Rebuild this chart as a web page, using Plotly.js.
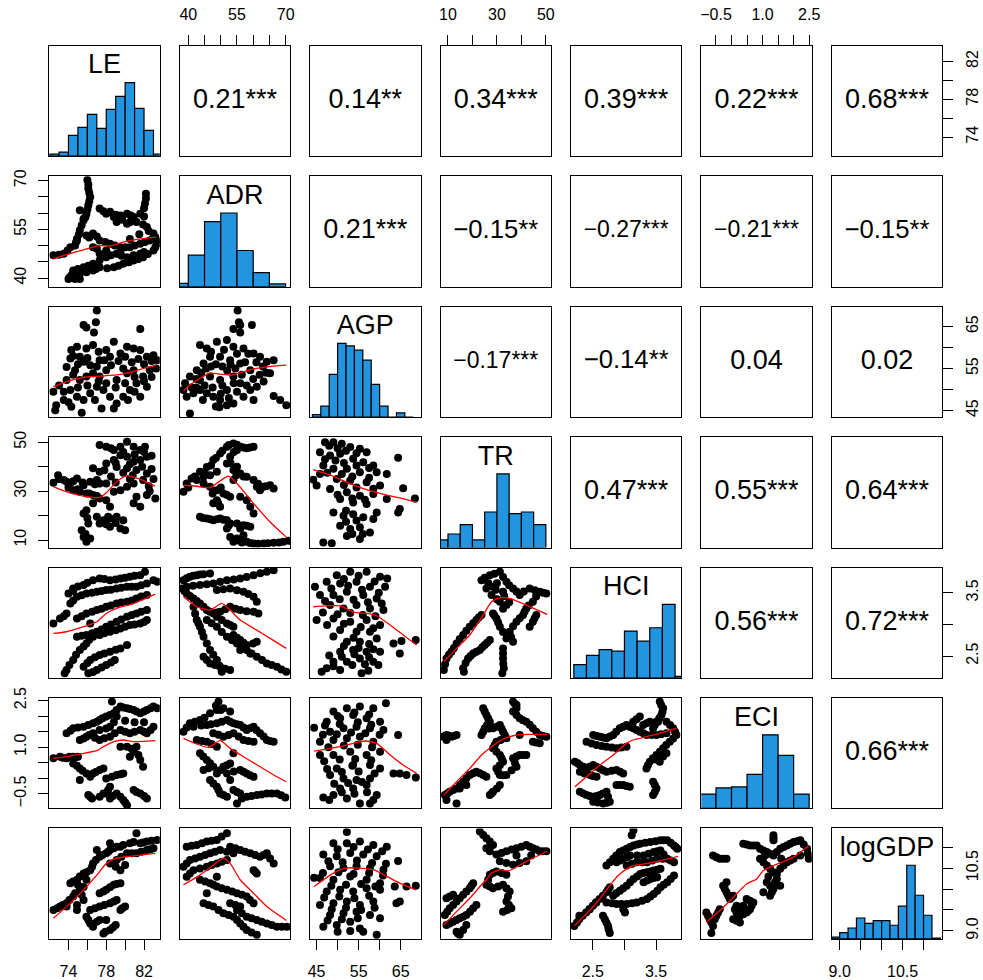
<!DOCTYPE html>
<html>
<head>
<meta charset="utf-8">
<script src="https://cdn.plot.ly/plotly-3.0.1.min.js"></script>
<style>html,body{margin:0;padding:0;background:#fff;}#chart{width:983px;height:980px;}</style>
</head>
<body>
<div id="chart"></div>
<script>
// ---------------- variables & axes ----------------
const varNames = ['LE','ADR','AGP','TR','HCI','ECI','logGDP'];
const axisMin = [71.97, 37.35, 43.45, 6.94, 2.154, -0.973, 8.81];
const axisMax = [83.67, 71.4, 69.75, 52.1, 3.90, 2.585, 11.445];
const tickVals = [[74,76,78,80,82],[40,45,50,55,60,65,70],[45,50,55,60,65],[10,20,30,40,50],[2.5,3.0,3.5],[-0.5,0,0.5,1,1.5,2,2.5],[9,9.5,10,10.5,11]];
const tickText = [['74','','78','','82'],['40','','','55','','','70'],['45','','55','','65'],['10','','30','','50'],['2.5','','3.5'],['\u22120.5','','','1.0','','','2.5'],['9.0','','','10.5','']];

// ---------------- histograms (diagonal) ----------------
const breaks_LE = [72,73,74,75,76,77,78,79,80,81,82,83,84];
const counts_LE = [2,4,21,29,42,28,47,60,74,48,26,2];
const breaks_ADR = [35,40,45,50,55,60,65,70];
const counts_ADR = [5,47,97,110,54,21,4];
const breaks_AGP = [44,46,48,50,52,54,56,58,60,62,64,66,68];
const counts_AGP = [3,13,51,88,85,80,68,39,13,0,5,0];
const breaks_TR = [5,10,15,20,25,30,35,40,45,50];
const counts_TR = [9,16,27,9,42,87,40,42,27];
const breaks_HCI = [2.2,2.4,2.6,2.8,3.0,3.2,3.4,3.6,3.8,4.0];
const counts_HCI = [16,27,34,32,56,44,60,88,2];
const breaks_ECI = [-1,-0.5,0,0.5,1,1.5,2,2.5];
const counts_ECI = [16,23,24,38,82,59,16];
const breaks_logGDP = [8.8,9.0,9.2,9.4,9.6,9.8,10.0,10.2,10.4,10.6,10.8,11.0,11.2,11.4];
const counts_logGDP = [2,7,12,23,17,20,20,15,36,81,48,26,1];

// ---------------- correlations (upper triangle, row by row) ----------------
const corrRow1 = ['0.21***','0.14**','0.34***','0.39***','0.22***','0.68***'];
const corrRow2 = ['0.21***','\u22120.15**','\u22120.27***','\u22120.21***','\u22120.15**'];
const corrRow3 = ['\u22120.17***','\u22120.14**','0.04','0.02'];
const corrRow4 = ['0.47***','0.55***','0.64***'];
const corrRow5 = ['0.56***','0.72***'];
const corrRow6 = ['0.66***'];

// ---------------- scatter points (lower triangle) [x, y] ----------------
const pts21 = [[76.0,70.2],[76.1,67.6],[76.3,65.0],[76.1,62.4],[75.9,59.8],[75.6,57.8],[75.2,54.7],[74.9,52.1],[74.7,50.0],[75.2,60.9],[75.6,58.3],[77.3,61.4],[78.0,59.8],[78.8,58.8],[78.4,60.4],[79.5,59.3],[80.2,59.8],[80.9,58.8],[81.6,59.8],[82.1,63.0],[82.2,66.0],[79.1,57.3],[80.2,56.7],[81.2,57.3],[82.3,55.7],[83.0,53.7],[72.4,47.0],[73.5,47.5],[74.2,49.5],[74.9,51.6],[75.9,53.1],[76.6,53.7],[77.3,51.6],[78.4,50.6],[79.5,49.5],[80.5,49.5],[81.6,50.6],[82.6,51.6],[83.2,52.6],[83.4,50.6],[83.0,48.5],[81.9,46.4],[80.9,45.4],[79.8,44.4],[78.8,43.3],[77.3,43.3],[76.6,42.3],[75.2,41.3],[74.3,40.8],[74.5,42.3],[75.6,43.3],[76.6,44.4],[78.0,46.4],[79.1,47.5],[80.2,46.4],[81.6,47.5],[77.3,47.5],[76.6,49.5],[74.0,39.7],[75.2,39.7],
  [76.1,68.8],[76.2,66.3],[76.2,63.7],[76.0,61.1],[75.8,58.8],[75.4,56.3],[75.1,53.4],[74.8,51.0],[73.0,47.2],[73.9,48.5],[76.2,52.5],[77.0,52.8],[77.9,51.1],[78.9,50.0],[80.0,49.5],[81.0,50.0],[82.1,51.1],[82.9,52.1],[83.3,51.6],[83.2,49.5],[82.4,47.4],[81.4,45.9],[80.4,44.9],[79.3,43.8],[78.1,43.0],[76.9,42.8],[75.9,41.8],[74.8,41.0],[74.1,40.2],[74.7,39.7],[75.0,42.8],[76.1,43.8],[77.3,45.5],[78.5,47.0],[79.6,46.9],[80.9,47.0],[82.0,48.0],[77.0,49.0],[78.0,48.5],[79.5,48.0],[80.5,52.0],[81.5,53.5],[82.5,54.5],[79.7,58.0],[80.5,57.2],[81.9,56.5],[77.7,60.6],[79.0,59.5],[80.6,59.3],[82.0,61.5],[82.2,64.5],[82.0,59.0]];
const fit21 = [[72.4,45.9],[73.8,47.2],[75.6,48.7],[77.3,50.0],[78.4,49.9],[79.8,51.1],[81.2,51.9],[83.3,52.6]];

const pts31 = [[77.0,68.8],[76.9,66.0],[76.7,63.6],[75.6,65.4],[75.9,64.8],[81.6,64.4],[74.3,59.4],[74.9,60.2],[75.9,59.8],[76.6,60.6],[75.2,57.8],[74.2,57.4],[73.8,55.4],[74.7,54.6],[75.6,56.6],[76.3,55.8],[77.2,59.0],[77.3,57.0],[78.0,59.4],[78.8,61.4],[78.4,57.8],[79.5,58.6],[80.2,60.2],[80.9,59.8],[81.6,59.4],[82.3,57.8],[83.0,58.2],[83.4,57.0],[82.6,54.6],[81.9,53.1],[81.2,51.5],[80.5,49.9],[79.8,48.3],[79.1,46.7],[78.4,48.3],[77.7,49.9],[77.0,50.7],[76.3,49.1],[75.6,47.5],[74.9,48.3],[74.2,49.9],[73.5,47.5],[72.7,46.3],[72.6,45.1],[72.4,49.5],[75.4,44.5],[74.3,45.9],[75.9,53.1],[77.3,53.1],[79.1,52.3],[80.9,54.6],[82.3,50.7],[81.6,48.3],[80.2,53.9],[78.0,54.6],[76.6,53.9],[75.2,52.3],[73.8,52.3],
  [74.5,58.0],[75.0,56.0],[76.0,57.5],[77.0,55.5],[77.8,57.0],[78.5,55.8],[79.3,56.8],[80.0,57.8],[80.7,56.5],[81.4,57.3],[82.0,56.0],[82.8,56.8],[79.8,55.0],[81.0,53.0],[82.0,52.0],[80.0,51.5],[79.0,50.5],[78.0,51.5],[77.2,52.0],[76.0,51.0],[75.0,50.5],[73.5,49.5],[73.0,51.0],[74.5,53.5],[76.8,47.5],[78.8,45.5],[80.3,47.5],[82.8,53.0],[83.3,55.0],[81.0,49.5],[77.5,45.5],[74.0,47.0]];
const fit31 = [[72.4,50.7],[73.8,51.9],[75.6,52.9],[77.3,53.2],[79.1,53.5],[80.2,53.9],[81.6,54.8],[83.3,55.8]];

const pts32 = [[55.2,68.8],[55.6,66.0],[56.0,65.4],[53.9,64.4],[59.6,65.4],[56.0,63.6],[43.6,60.6],[45.7,59.8],[48.8,61.4],[51.9,61.8],[53.9,60.2],[57.0,59.8],[60.1,58.6],[62.1,57.8],[64.2,56.6],[66.3,57.0],[65.2,53.9],[63.2,51.9],[61.1,50.7],[59.1,49.9],[57.0,48.3],[53.9,46.7],[51.9,46.3],[49.8,47.5],[47.7,48.3],[45.7,49.1],[43.6,49.9],[41.6,49.1],[39.5,48.3],[38.5,49.9],[39.0,51.5],[40.5,53.1],[42.6,54.6],[44.7,56.2],[46.7,57.8],[49.8,57.8],[52.9,57.0],[56.0,56.2],[59.1,54.6],[53.9,53.1],[49.8,52.3],[46.7,53.1],[43.6,52.3],[51.9,49.9],[56.0,51.5],[40.5,44.3],[49.6,45.8],[66.3,48.5],[68.3,47.5],[70.2,46.3],[60.1,47.5],
  [41.0,50.5],[42.5,52.5],[44.0,54.0],[45.5,55.0],[47.0,55.5],[48.5,56.0],[50.5,55.5],[52.0,54.5],[54.5,55.0],[57.5,56.5],[58.5,58.5],[61.0,56.5],[63.0,55.5],[62.0,53.5],[60.0,52.5],[58.0,51.0],[55.0,49.5],[52.5,48.0],[50.0,49.0],[47.5,50.5],[45.0,51.0],[42.5,50.5],[44.5,47.5],[48.5,46.0],[54.0,51.5],[50.5,51.0],[47.0,59.0],[51.0,59.5],[55.0,58.5],[64.0,54.0],[56.5,53.5],[53.0,56.0]];
const fit32 = [[38.5,49.7],[40.5,51.1],[43.6,52.7],[46.7,53.9],[49.8,53.7],[52.9,53.4],[56.0,54.0],[60.1,54.9],[64.2,55.4],[70.2,55.8]];

const pts41 = [[72.4,33.4],[72.9,36.5],[73.5,34.5],[74.2,33.1],[74.9,35.2],[75.6,32.4],[76.3,33.8],[77.0,34.5],[77.3,33.1],[74.5,30.4],[75.2,29.7],[75.9,29.0],[76.6,28.4],[77.3,27.0],[77.3,48.8],[78.0,48.1],[78.8,46.8],[79.5,48.1],[80.2,50.2],[80.9,48.1],[81.6,46.8],[82.1,48.1],[82.3,44.0],[81.6,42.7],[80.9,42.0],[80.2,44.0],[79.5,44.7],[78.8,42.7],[78.0,41.3],[79.1,39.9],[80.2,39.3],[81.2,38.6],[82.3,37.2],[81.9,34.5],[80.9,33.1],[80.2,31.8],[79.5,30.4],[78.8,29.7],[78.0,33.1],[77.3,37.9],[76.6,39.3],[81.2,27.7],[82.3,28.4],[83.2,27.0],[80.9,25.0],[81.6,23.6],[75.9,22.2],[75.6,20.9],[76.6,25.0],[78.0,26.3],[78.4,23.6],[77.0,19.5],[77.7,18.1],[78.4,18.8],[79.1,19.5],[79.8,18.1],[77.3,16.8],[78.4,15.4],[79.5,14.7],[80.0,14.0],[75.4,14.0],[75.6,11.3],[75.9,9.3],[76.3,10.6],[76.1,16.8],
  [78.5,47.5],[79.8,46.0],[81.0,45.0],[82.0,46.0],[82.8,44.5],[79.0,41.5],[80.5,41.0],[81.8,40.0],[82.8,39.0],[80.8,36.5],[79.8,37.5],[78.5,36.0],[79.0,33.5],[80.5,35.0],[82.5,32.0],[83.0,35.0],[82.6,30.0],[77.8,38.5],[73.0,35.0],[73.8,33.8],[74.5,34.0],[75.5,33.5],[76.8,32.8],[74.0,31.5],[75.0,30.8],[76.2,29.0],[77.0,28.0],[78.2,19.5],[79.0,17.0],[78.0,16.5],[75.8,12.5],[76.0,19.0]];
const fit41 = [[72.4,31.8],[73.8,29.7],[75.6,28.0],[77.3,27.4],[78.0,29.3],[79.1,33.8],[80.2,36.3],[81.6,34.8],[83.2,32.0]];

const pts42 = [[38.5,29.7],[39.5,33.1],[41.0,35.2],[42.6,34.5],[44.7,35.9],[46.7,36.5],[48.8,37.9],[43.6,37.9],[45.7,39.9],[47.7,42.7],[49.8,45.4],[51.9,48.1],[53.9,49.5],[56.0,48.1],[58.0,47.5],[60.1,48.1],[55.0,46.8],[52.9,44.0],[51.9,41.3],[53.9,38.6],[56.0,37.2],[58.0,35.9],[53.9,34.5],[44.7,33.1],[46.7,31.8],[48.8,30.4],[50.8,29.0],[52.9,27.7],[48.8,26.3],[49.8,23.6],[47.7,25.0],[60.1,34.5],[61.1,31.8],[63.2,31.8],[65.2,32.4],[66.3,31.1],[62.1,30.4],[56.0,27.7],[58.0,26.3],[59.1,23.6],[60.1,20.9],[43.6,19.5],[45.7,18.8],[47.7,18.1],[49.8,18.8],[51.9,18.1],[52.9,16.8],[51.9,14.7],[55.0,16.8],[57.0,16.1],[59.1,15.4],[56.0,14.7],[52.9,11.3],[55.0,10.6],[58.0,9.3],[60.1,8.6],[63.2,8.6],[66.3,8.9],[69.3,9.3],[70.9,9.7],[53.9,9.3],[57.0,12.0],
  [40.0,31.5],[42.0,36.0],[45.0,37.5],[47.0,40.5],[48.5,43.5],[50.5,46.5],[52.5,48.8],[55.0,49.0],[57.0,47.8],[59.0,47.8],[54.0,46.0],[53.0,41.5],[55.0,40.0],[54.8,36.5],[57.0,36.0],[50.0,31.5],[51.8,28.5],[47.5,29.0],[49.2,25.0],[61.5,33.0],[64.0,32.0],[44.5,19.0],[46.8,18.5],[48.8,18.5],[50.8,18.3],[52.4,15.8],[55.5,9.8],[56.5,9.0],[59.0,8.8],[61.5,8.5],[64.5,8.7],[68.0,9.0],[58.0,15.8]];
const fit42 = [[38.5,32.4],[42.6,32.0],[46.7,31.4],[49.8,34.2],[52.4,36.1],[55.0,33.1],[60.1,25.0],[65.2,17.4],[70.2,11.2]];

const pts43 = [[47.0,50.0],[49.0,50.0],[51.0,49.4],[53.0,48.0],[55.3,47.3],[56.9,45.9],[45.8,45.9],[48.2,44.6],[50.6,45.3],[53.7,43.2],[56.1,41.8],[58.5,40.5],[46.6,40.5],[49.0,39.1],[52.2,39.1],[55.3,37.7],[59.3,37.7],[45.8,37.0],[49.8,35.0],[53.0,34.3],[56.9,33.6],[60.1,32.3],[48.2,30.9],[52.2,29.5],[55.3,28.1],[58.5,28.8],[61.7,26.8],[50.6,26.8],[53.7,25.4],[56.9,24.7],[49.0,21.3],[51.4,19.9],[53.7,20.6],[56.1,19.3],[58.5,18.6],[50.6,15.8],[53.0,14.5],[55.3,15.2],[57.7,13.1],[52.2,11.7],[55.3,10.4],[46.6,9.0],[48.6,8.7],[44.2,34.7],[45.0,32.3],[64.4,43.6],[65.6,31.2],[61.7,37.0],[68.4,27.0],[64.8,22.7],[64.4,21.3],[59.3,21.3],
  [48.0,48.5],[50.0,47.5],[52.0,46.5],[54.5,45.5],[47.0,43.0],[49.5,42.5],[51.5,41.5],[54.5,40.5],[57.5,39.5],[47.5,37.5],[51.0,37.0],[53.5,36.0],[57.5,35.5],[51.5,32.5],[54.5,31.5],[58.5,31.0],[50.0,28.5],[53.5,27.0],[56.5,26.5],[52.0,22.0],[54.5,18.0],[52.0,17.5],[56.0,12.5],[53.5,12.5]];
const fit43 = [[44.2,38.8],[48.2,36.6],[52.2,33.6],[56.9,30.6],[61.7,28.4],[64.8,27.2],[68.8,25.4]];

const pts51 = [[72.4,3.017],[73.1,3.096],[73.8,3.174],[74.0,3.490],[74.5,3.569],[75.6,3.622],[76.6,3.700],[77.3,3.727],[78.4,3.700],[79.5,3.727],[80.5,3.753],[81.6,3.779],[82.1,3.832],[83.0,3.700],[83.4,3.674],[74.2,3.332],[74.9,3.437],[75.9,3.490],[77.0,3.516],[78.0,3.543],[79.1,3.569],[80.2,3.595],[81.2,3.595],[82.3,3.648],[74.9,3.096],[75.9,3.174],[77.0,3.227],[78.0,3.280],[79.1,3.332],[80.2,3.358],[81.2,3.411],[82.3,3.464],[74.9,2.806],[75.9,2.833],[77.0,2.885],[78.0,2.964],[79.1,3.043],[80.2,3.122],[81.2,3.174],[82.3,3.227],[73.8,2.280],[74.5,2.438],[75.2,2.596],[75.9,2.701],[76.6,2.806],[77.3,2.833],[78.4,2.885],[79.5,2.938],[80.5,2.990],[81.6,3.017],[82.3,3.069],[75.6,2.333],[76.3,2.438],[77.3,2.517],[78.4,2.570],[79.5,2.622],[80.2,2.675],[76.1,2.228],[77.0,2.280],[78.0,2.359],[78.9,2.438],[73.6,2.228],[76.3,3.017],
  [73.5,3.13],[74.5,3.53],[75.0,3.60],[76.0,3.66],[77.8,3.72],[79.0,3.71],[80.0,3.74],[81.0,3.77],[74.5,3.38],[75.4,3.46],[76.5,3.50],[77.5,3.53],[78.5,3.55],[79.6,3.58],[80.7,3.595],[81.7,3.62],[75.4,3.13],[76.5,3.20],[77.5,3.25],[78.5,3.30],[79.6,3.345],[80.7,3.38],[81.7,3.44],[75.4,2.82],[76.5,2.86],[77.5,2.92],[78.5,3.00],[79.6,3.08],[80.7,3.15],[81.7,3.20],[74.1,2.36],[74.8,2.52],[75.6,2.65],[76.2,2.76],[77.8,2.86],[79.0,2.91],[80.0,2.965],[81.0,3.00],[82.0,3.04],[76.0,2.39],[76.8,2.48],[77.8,2.54],[79.0,2.60],[76.6,2.25],[77.5,2.32],[78.5,2.40]];
const fit51 = [[72.4,2.859],[73.8,2.885],[75.6,2.964],[77.0,3.043],[78.0,3.174],[79.1,3.253],[80.9,3.332],[83.2,3.480]];

const pts52 = [[38.5,3.700],[40.5,3.753],[42.6,3.779],[44.7,3.795],[46.7,3.806],[39.5,3.595],[43.6,3.622],[47.7,3.648],[51.9,3.700],[56.0,3.727],[60.1,3.779],[64.2,3.832],[66.3,3.858],[48.8,3.543],[52.9,3.569],[57.0,3.516],[60.1,3.437],[61.1,3.358],[38.0,3.569],[39.5,3.490],[41.6,3.411],[43.6,3.332],[45.7,3.227],[47.7,3.174],[49.8,3.201],[52.9,3.280],[56.0,3.227],[60.1,3.201],[61.6,3.174],[41.6,3.280],[42.6,3.069],[43.6,2.964],[44.7,2.806],[46.7,2.596],[48.8,2.438],[50.3,2.254],[45.7,3.069],[48.8,2.964],[51.9,2.806],[55.0,2.701],[58.0,2.596],[61.1,2.491],[64.2,2.385],[67.3,2.333],[70.2,2.254],[48.8,3.122],[51.9,3.017],[53.9,2.964],[53.9,2.833],[56.0,2.754],[58.0,2.675],[61.1,2.728],[56.0,2.596],[59.1,2.543],[44.7,2.491],[46.7,2.385],[49.8,2.333],[52.9,2.280],
  [39.5,3.73],[41.5,3.77],[43.6,3.79],[41.5,3.61],[45.7,3.635],[49.8,3.675],[54.0,3.71],[58.0,3.75],[62.2,3.81],[50.8,3.556],[55.0,3.54],[58.5,3.48],[38.8,3.53],[40.5,3.45],[42.6,3.37],[44.7,3.28],[46.7,3.20],[48.8,3.19],[51.4,3.24],[54.5,3.25],[58.0,3.21],[42.1,3.17],[43.1,3.02],[44.2,2.88],[45.7,2.70],[47.7,2.52],[49.5,2.35],[47.2,3.02],[50.3,2.88],[53.5,2.75],[56.5,2.65],[59.5,2.54],[62.7,2.44],[65.7,2.36],[68.7,2.29],[50.3,3.07],[52.9,2.99],[55.0,2.79],[57.0,2.71],[60.0,2.70],[45.7,2.44],[48.2,2.36],[51.3,2.30]];
const fit52 = [[38.5,3.437],[42.6,3.280],[46.7,3.227],[50.3,3.332],[52.9,3.227],[56.0,3.069],[61.1,2.911],[65.2,2.780],[70.2,2.622]];

const pts53 = [[49.8,3.779],[53.0,3.832],[56.9,3.832],[60.1,3.753],[47.4,3.674],[50.6,3.648],[54.5,3.674],[57.7,3.595],[61.3,3.595],[61.8,3.727],[45.8,3.464],[49.0,3.464],[52.2,3.516],[56.1,3.464],[59.3,3.411],[48.2,3.306],[51.4,3.253],[54.5,3.306],[57.7,3.253],[60.9,3.227],[45.0,3.069],[49.0,3.096],[53.0,3.043],[56.9,3.069],[60.1,2.990],[50.6,2.911],[54.5,2.885],[57.7,2.885],[52.2,2.727],[55.3,2.727],[59.3,2.780],[50.6,2.570],[53.7,2.596],[56.9,2.570],[60.1,2.570],[49.0,2.412],[52.2,2.412],[55.3,2.464],[58.5,2.412],[47.4,2.307],[50.6,2.280],[59.7,2.359],[63.3,2.701],[65.2,2.738],[68.6,2.754],[64.8,2.543],[55.7,2.228],[57.3,2.270],[46.2,2.254],[44.6,3.595],
  [51.5,3.72],[55.0,3.77],[58.8,3.68],[48.5,3.57],[52.5,3.61],[55.8,3.55],[59.8,3.50],[47.0,3.37],[50.5,3.40],[53.8,3.39],[57.2,3.35],[60.5,3.33],[46.5,3.19],[50.0,3.16],[53.0,3.18],[56.0,3.15],[59.0,3.13],[47.5,2.99],[51.5,3.01],[55.5,2.96],[58.5,2.94],[49.0,2.81],[53.8,2.79],[57.5,2.69],[51.5,2.66],[55.0,2.63],[58.5,2.61],[48.0,2.51],[51.0,2.49],[54.0,2.53],[57.5,2.48],[49.0,2.34],[53.5,2.36],[56.5,2.37]];
const fit53 = [[44.2,3.280],[47.4,3.295],[50.6,3.295],[54.1,3.190],[56.9,3.174],[59.3,3.138],[62.5,2.990],[65.6,2.833],[68.8,2.675]];

const pts54 = [[8.3,2.280],[9.4,2.464],[11.4,2.570],[13.5,2.701],[16.2,2.833],[18.9,2.964],[21.6,3.069],[23.7,3.148],[16.2,2.307],[18.2,2.464],[20.3,2.543],[23.0,2.596],[25.0,2.675],[27.1,2.754],[23.7,3.700],[27.1,3.779],[31.2,3.832],[33.9,3.674],[32.5,3.516],[36.6,3.569],[39.3,3.464],[43.4,3.569],[47.5,3.516],[50.2,3.490],[44.7,3.358],[42.0,3.253],[40.7,3.148],[38.0,3.043],[35.2,2.885],[36.6,2.727],[33.9,2.780],[31.2,2.964],[29.8,3.096],[28.4,3.174],[33.9,3.306],[31.2,3.358],[32.5,2.622],[32.5,2.464],[32.8,2.307],[32.2,2.228],[44.7,3.043],[46.1,3.148],[43.4,2.964],[28.4,3.595],[25.7,3.569],[27.8,3.464],[16.5,2.254],
  [8.8,2.37],[10.4,2.52],[12.4,2.63],[14.8,2.77],[17.5,2.90],[20.3,3.02],[22.6,3.11],[17.2,2.39],[19.2,2.50],[21.6,2.57],[24.0,2.64],[26.0,2.71],[25.0,3.74],[29.0,3.80],[32.5,3.75],[30.0,3.65],[35.0,3.62],[38.0,3.52],[41.0,3.52],[45.5,3.54],[48.8,3.50],[46.0,3.44],[43.0,3.30],[41.3,3.20],[39.3,3.10],[36.6,2.97],[35.8,2.80],[32.5,2.88],[30.5,3.03],[29.0,3.14],[32.5,3.25],[35.0,3.35],[33.0,3.45],[30.0,3.40],[32.5,2.54],[32.6,2.38],[45.4,3.10],[26.5,3.65],[29.5,3.55]];
const fit54 = [[8.3,2.412],[13.5,2.622],[18.9,2.833],[24.4,3.148],[27.8,3.358],[31.2,3.421],[35.2,3.411],[42.0,3.306],[50.5,3.159]];

const pts61 = [[72.4,0.640],[73.1,0.693],[73.8,0.640],[74.5,0.693],[75.0,0.693],[73.8,1.446],[74.5,1.607],[75.6,1.661],[76.6,1.768],[77.3,1.876],[78.0,1.984],[78.8,2.091],[79.5,2.306],[80.2,2.252],[80.9,2.198],[81.6,2.091],[82.3,2.198],[83.0,2.306],[83.4,2.252],[78.6,2.467],[79.1,1.984],[78.4,1.661],[77.3,1.553],[76.6,1.446],[75.9,1.338],[75.2,1.231],[77.3,1.231],[78.4,1.338],[79.5,1.553],[80.5,1.446],[81.6,1.553],[82.3,1.446],[83.0,1.661],[81.2,1.016],[80.9,0.854],[81.6,0.586],[81.9,0.371],[80.2,1.016],[79.5,1.016],[80.5,0.693],[74.5,0.478],[75.2,0.317],[75.9,0.156],[76.6,0.156],[77.3,0.263],[77.7,0.317],[75.2,-0.059],[76.3,0.048],[78.0,-0.006],[79.1,0.102],[79.8,0.156],[78.4,-0.274],[77.7,-0.489],[77.3,-0.597],[78.4,-0.651],[79.1,-0.489],[79.8,-0.704],[80.2,-0.866],[80.9,-0.382],[81.6,-0.489],[82.3,-0.651],[76.1,-0.543],[76.5,-0.651],[78.0,-0.489],
  [73.4,0.66],[74.1,0.69],[74.8,0.68],[74.2,1.53],[75.0,1.63],[76.1,1.71],[77.0,1.82],[77.6,1.93],[78.4,2.04],[79.1,2.20],[79.8,2.28],[80.5,2.23],[81.2,2.15],[82.0,2.15],[82.7,2.25],[76.2,1.39],[75.6,1.28],[76.8,1.30],[77.8,1.29],[78.9,1.45],[80.0,1.50],[81.0,1.50],[82.0,1.50],[82.7,1.55],[78.0,1.60],[78.8,1.80],[80.0,1.85],[81.0,1.80],[82.0,1.80],[80.7,0.95],[81.4,0.75],[74.9,0.40],[75.5,0.24],[76.9,0.20],[78.6,0.05],[79.5,0.13],[78.2,-0.38],[78.7,-0.57],[79.5,-0.60],[80.0,-0.78],[81.2,-0.44],[82.0,-0.57],[76.3,-0.60]];
const fit61 = [[72.4,0.640],[73.8,0.693],[75.6,0.801],[77.0,0.887],[77.7,1.016],[78.8,1.177],[79.8,1.231],[80.9,1.177],[83.2,1.209]];

const pts62 = [[49.3,2.467],[48.8,2.198],[46.7,2.091],[50.8,2.252],[52.9,2.145],[43.6,1.876],[40.5,1.768],[38.5,1.499],[41.6,1.661],[45.7,1.714],[48.8,1.768],[51.9,1.876],[53.9,1.768],[56.0,1.714],[58.0,1.553],[60.1,1.661],[62.1,1.446],[64.2,1.231],[66.3,1.177],[47.7,1.446],[50.8,1.338],[53.9,1.446],[57.0,1.231],[60.1,1.177],[42.6,1.231],[45.7,1.177],[48.8,1.016],[43.6,0.801],[45.7,0.586],[47.7,0.371],[44.7,0.263],[48.8,0.156],[50.8,0.371],[52.9,0.478],[53.9,0.801],[51.9,0.156],[56.0,0.263],[58.0,0.156],[60.1,0.048],[46.7,-0.059],[48.8,-0.274],[49.8,-0.489],[51.9,-0.597],[53.9,-0.382],[56.0,-0.489],[55.0,-0.812],[58.0,-0.597],[61.1,-0.543],[64.2,-0.489],[67.3,-0.489],[69.9,-0.618],[52.9,-0.059],
  [48.5,2.33],[50.0,2.20],[45.0,1.95],[42.0,1.82],[39.5,1.63],[44.0,1.70],[47.0,1.74],[50.3,1.82],[52.9,1.82],[55.0,1.74],[57.0,1.63],[59.0,1.61],[61.0,1.55],[63.2,1.34],[65.2,1.20],[49.3,1.40],[52.4,1.39],[55.5,1.34],[58.5,1.20],[44.2,1.20],[47.2,1.10],[44.6,0.70],[46.7,0.48],[46.2,0.32],[49.8,0.26],[51.9,0.42],[54.0,0.22],[57.0,0.21],[59.0,0.10],[47.7,-0.17],[49.3,-0.38],[50.8,-0.54],[55.0,-0.44],[56.5,-0.65],[59.5,-0.57],[62.6,-0.52],[65.7,-0.49],[68.6,-0.55]];
const fit62 = [[38.5,1.285],[42.6,1.102],[46.2,0.994],[49.8,1.209],[52.9,0.962],[57.0,0.693],[62.1,0.371],[67.3,0.048],[70.2,-0.113]];

const pts63 = [[49.0,2.145],[52.2,2.252],[55.3,2.306],[58.5,2.252],[61.5,2.413],[47.4,1.822],[50.6,1.930],[53.7,2.037],[56.9,1.930],[60.1,1.822],[48.2,1.499],[51.4,1.607],[54.5,1.661],[57.7,1.607],[60.9,1.553],[45.8,1.177],[49.0,1.231],[52.2,1.285],[55.3,1.338],[58.5,1.177],[45.8,0.747],[49.0,0.747],[53.0,0.854],[56.9,0.747],[60.1,0.854],[49.8,0.317],[53.7,0.425],[57.7,0.425],[60.1,0.317],[48.2,0.102],[51.4,-0.006],[54.5,-0.059],[57.7,-0.006],[50.6,-0.328],[53.7,-0.328],[56.9,-0.221],[49.0,-0.543],[52.2,-0.651],[55.3,-0.812],[57.7,-0.812],[46.6,-0.618],[59.3,-0.543],[44.4,1.629],[64.4,1.392],[63.3,0.156],[64.8,0.156],[66.4,0.102],[68.6,0.027],
  [50.0,2.00],[54.0,2.12],[57.5,2.05],[47.0,1.70],[50.5,1.75],[54.8,1.80],[58.0,1.72],[46.5,1.40],[49.8,1.42],[53.2,1.47],[56.6,1.45],[60.0,1.40],[47.8,1.00],[51.5,1.05],[54.8,1.08],[58.2,1.00],[46.8,0.55],[50.5,0.60],[54.2,0.62],[58.0,0.58],[51.0,0.20],[55.0,0.22],[58.8,0.15],[49.2,-0.18],[52.5,-0.15],[55.8,-0.12],[51.0,-0.45],[54.0,-0.50],[57.0,-0.45],[48.0,-0.70],[58.5,-0.70],[53.5,0.40],[47.5,0.30]];
const fit63 = [[44.4,0.876],[47.4,0.940],[50.6,1.016],[53.7,1.123],[56.5,1.199],[59.3,1.123],[62.5,0.747],[65.6,0.425],[68.8,0.156]];

const pts64 = [[8.0,1.338],[9.4,1.392],[11.4,1.338],[13.5,1.392],[9.4,1.231],[8.7,-0.543],[10.7,-0.436],[13.5,-0.328],[16.2,-0.113],[18.9,0.102],[21.6,0.210],[24.4,0.102],[25.7,0.048],[9.4,-0.704],[13.5,-0.812],[14.8,-0.328],[17.5,-0.221],[24.4,2.252],[25.7,2.037],[27.1,1.822],[25.0,1.607],[23.7,1.392],[28.4,1.607],[31.2,1.714],[32.5,1.499],[33.9,1.285],[29.8,1.177],[28.4,0.962],[31.2,0.747],[32.5,0.532],[29.8,0.317],[31.2,0.102],[33.9,0.102],[38.0,0.371],[36.6,0.640],[39.3,0.747],[42.0,0.747],[39.3,1.392],[36.6,2.145],[38.0,2.360],[36.6,2.467],[39.3,1.930],[42.0,1.822],[44.7,1.607],[47.5,1.392],[50.2,1.338],[44.7,1.177],[47.5,1.123],[31.2,-0.221],[28.4,-0.436],[27.1,-0.543],
  [8.7,1.36],[10.4,1.37],[12.4,1.36],[9.7,-0.49],[12.1,-0.38],[14.9,-0.22],[17.5,0.00],[20.3,0.16],[23.0,0.16],[25.0,2.15],[26.4,1.93],[26.0,1.71],[24.4,1.50],[26.8,1.60],[29.8,1.66],[31.9,1.60],[33.2,1.39],[31.5,1.23],[29.1,1.07],[29.8,0.85],[31.9,0.64],[31.2,0.42],[30.5,0.21],[32.5,0.10],[36.0,0.26],[37.3,0.50],[38.0,0.70],[40.6,0.75],[38.0,2.25],[37.3,2.40],[38.0,2.04],[40.6,1.87],[43.4,1.72],[46.1,1.50],[48.8,1.36],[46.1,1.15],[30.0,-0.33],[27.8,-0.49]];
const fit64 = [[8.3,-0.543],[13.5,-0.113],[18.9,0.317],[23.7,0.747],[27.8,1.016],[31.8,1.231],[38.0,1.392],[44.7,1.414],[50.5,1.414]];

const pts65 = [[3.558,2.467],[3.611,2.252],[3.585,2.037],[3.506,1.822],[3.453,1.607],[3.243,1.984],[3.138,1.822],[3.295,1.714],[3.401,1.822],[3.664,1.822],[3.769,1.607],[3.821,1.392],[3.716,1.177],[3.611,0.962],[3.506,0.747],[3.401,0.532],[3.348,0.317],[3.558,0.532],[3.664,0.801],[2.506,1.392],[2.612,1.338],[2.717,1.285],[2.822,1.392],[2.927,1.607],[3.032,1.714],[3.138,1.607],[3.243,1.499],[3.348,1.392],[3.506,1.392],[3.664,1.446],[2.401,1.177],[2.559,1.069],[2.717,1.016],[2.875,0.962],[3.032,1.016],[2.217,0.532],[2.296,0.425],[2.401,0.317],[2.506,0.425],[2.612,0.317],[2.717,0.210],[2.875,0.263],[2.980,0.156],[2.296,0.210],[2.454,0.102],[2.559,0.048],[2.875,-0.221],[2.980,-0.221],[3.085,-0.274],[2.296,-0.436],[2.401,-0.543],[2.506,-0.597],[2.612,-0.543],[2.717,-0.436],[2.769,-0.758],[2.664,-0.812],[2.506,-0.758],[3.453,-0.113],[3.506,-0.328],[3.453,-0.543],
  [3.58,2.36],[3.60,2.14],[3.55,1.93],[3.48,1.71],[3.19,1.90],[3.35,1.77],[3.53,1.82],[3.72,1.71],[3.80,1.50],[3.77,1.28],[3.66,1.07],[3.56,0.85],[3.45,0.64],[3.37,0.42],[3.50,0.60],[3.61,0.70],[2.56,1.36],[2.66,1.31],[2.77,1.34],[2.87,1.50],[2.98,1.66],[3.08,1.66],[3.19,1.55],[3.30,1.45],[3.43,1.39],[3.58,1.42],[2.48,1.12],[2.64,1.04],[2.80,0.99],[2.95,0.99],[2.26,0.48],[2.35,0.37],[2.45,0.37],[2.56,0.37],[2.66,0.26],[2.80,0.24],[2.93,0.21],[2.37,0.15],[2.50,0.07],[2.93,-0.22],[3.03,-0.25],[2.35,-0.49],[2.45,-0.57],[2.56,-0.57],[2.66,-0.49],[2.74,-0.60],[2.72,-0.79],[2.58,-0.78],[3.48,-0.22],[3.48,-0.44]];
const fit65 = [[2.217,-0.274],[2.401,0.048],[2.612,0.425],[2.822,0.747],[3.032,1.123],[3.138,1.231],[3.348,1.338],[3.558,1.446],[3.821,1.607]];

const pts71 = [[72.4,9.50],[73.1,9.58],[73.8,9.66],[74.5,9.82],[74.2,10.14],[74.9,10.22],[75.6,10.37],[75.9,10.22],[75.2,9.98],[76.3,10.45],[76.6,10.61],[77.3,10.77],[78.0,10.85],[77.0,10.93],[78.4,10.93],[79.1,11.01],[78.4,11.09],[79.5,11.01],[80.5,11.09],[81.2,11.33],[81.6,11.09],[82.3,11.13],[83.4,11.17],[79.1,10.69],[80.2,10.85],[81.2,10.85],[82.3,10.93],[83.0,10.97],[78.4,10.61],[79.5,10.45],[77.3,9.90],[78.0,9.98],[78.8,10.10],[79.5,10.14],[76.3,9.50],[77.3,9.58],[78.4,9.66],[79.1,9.74],[80.0,9.58],[79.5,9.50],[75.9,9.34],[76.3,9.18],[76.6,9.10],[77.3,9.26],[77.7,8.94],[78.4,9.02],[79.0,9.14],[78.0,9.26],[73.8,9.58],[74.9,9.50],[75.6,9.74],
  [72.8,9.54],[73.4,9.62],[74.1,9.74],[74.7,9.90],[74.5,10.18],[75.2,10.30],[75.9,10.40],[76.5,10.53],[76.9,10.69],[77.6,10.81],[78.2,10.89],[78.8,10.97],[79.8,11.05],[80.9,11.12],[81.9,11.11],[82.8,11.15],[79.6,10.77],[80.7,10.85],[81.7,10.89],[82.7,10.95],[79.0,10.53],[80.0,10.57],[77.7,9.94],[78.4,10.04],[79.1,10.12],[76.8,9.54],[77.8,9.62],[78.8,9.70],[79.7,9.54],[76.1,9.26],[76.5,9.14],[77.0,9.22],[77.9,8.98],[78.7,9.08],[75.0,10.10],[74.9,9.62],[75.4,9.86],[75.6,10.05]];
const fit71 = [[72.4,9.30],[73.8,9.58],[75.6,9.98],[77.0,10.33],[78.0,10.61],[79.0,10.73],[80.2,10.77],[81.6,10.81],[83.2,10.85]];

const pts72 = [[39.5,11.01],[42.6,11.05],[45.7,11.13],[48.8,11.17],[51.9,11.33],[52.9,11.01],[56.0,10.93],[59.1,10.85],[62.1,10.77],[64.2,10.85],[66.3,10.61],[61.1,10.37],[60.1,10.45],[53.9,10.85],[49.8,10.93],[46.7,10.85],[43.6,10.77],[40.5,10.69],[38.5,10.53],[39.5,10.29],[41.6,10.45],[45.7,10.53],[48.8,10.61],[51.9,10.69],[43.6,10.22],[46.7,10.14],[48.8,10.06],[51.9,9.98],[55.0,9.90],[58.0,9.82],[60.1,9.66],[56.0,9.58],[52.9,9.66],[44.7,9.66],[47.7,9.58],[50.8,9.42],[53.9,9.34],[56.0,9.18],[58.0,9.02],[61.1,8.91],[55.0,9.50],[58.0,9.34],[61.1,9.26],[64.2,9.18],[67.3,9.10],[70.4,9.10],[48.8,10.29],[45.7,9.90],
  [41.0,11.03],[44.2,11.09],[47.2,11.15],[50.3,11.25],[54.5,10.97],[57.5,10.89],[60.6,10.81],[63.2,10.81],[65.2,10.73],[60.6,10.41],[51.9,10.89],[48.2,10.89],[45.2,10.81],[42.1,10.73],[39.5,10.61],[40.5,10.37],[43.6,10.49],[47.2,10.57],[50.3,10.65],[45.2,10.18],[47.7,10.10],[50.3,10.02],[53.5,9.94],[56.5,9.86],[59.0,9.74],[54.5,9.62],[46.2,9.62],[49.3,9.50],[52.4,9.38],[55.0,9.26],[57.0,9.10],[59.5,8.96],[56.5,9.42],[59.5,9.30],[62.6,9.22],[65.7,9.14],[68.8,9.10]];
const fit72 = [[38.5,10.10],[43.6,10.33],[47.7,10.57],[50.8,10.73],[52.9,10.61],[56.0,10.22],[60.1,9.90],[64.2,9.58],[70.2,9.25]];

const pts73 = [[52.2,11.36],[49.0,11.09],[52.2,11.09],[55.3,11.13],[58.5,11.05],[61.7,11.01],[46.6,10.82],[49.8,10.78],[53.0,10.86],[56.1,10.82],[59.3,10.78],[48.2,10.54],[51.4,10.50],[54.5,10.54],[57.7,10.50],[60.9,10.46],[45.8,10.26],[49.0,10.22],[53.0,10.30],[56.9,10.22],[60.1,10.14],[47.4,9.94],[50.6,9.98],[53.7,9.94],[56.9,10.02],[60.1,9.98],[45.8,9.62],[49.0,9.66],[52.2,9.70],[55.3,9.62],[58.5,9.70],[48.2,9.38],[51.4,9.42],[54.5,9.46],[57.7,9.38],[60.1,9.30],[46.6,9.10],[49.8,9.14],[53.0,9.22],[55.3,9.06],[44.4,10.27],[64.4,10.67],[64.0,9.66],[64.8,9.70],[63.6,10.06],[66.4,10.06],[68.6,10.08],[59.3,8.91],[56.1,8.98],
  [50.0,10.95],[53.8,11.00],[57.2,10.94],[60.6,10.90],[47.8,10.66],[51.2,10.64],[54.6,10.68],[58.2,10.62],[61.5,10.60],[46.5,10.38],[50.2,10.40],[53.8,10.36],[57.5,10.38],[60.8,10.32],[48.5,10.08],[52.0,10.10],[55.6,10.12],[59.0,10.06],[46.8,9.80],[50.4,9.82],[54.0,9.78],[57.5,9.84],[48.6,9.52],[52.0,9.55],[55.6,9.50],[58.8,9.55],[47.6,9.25],[51.0,9.28],[54.8,9.30],[50.0,8.98],[53.0,9.00]];
const fit73 = [[44.4,10.06],[49.0,10.38],[51.8,10.50],[54.9,10.50],[58.5,10.46],[61.7,10.30],[64.8,10.14],[68.6,9.98]];

const pts74 = [[8.7,9.38],[10.7,9.54],[13.5,9.70],[16.2,9.86],[18.9,10.02],[20.3,10.14],[9.4,9.14],[12.1,9.22],[14.8,9.30],[17.5,9.38],[13.5,8.98],[14.8,8.91],[17.5,9.14],[20.3,9.54],[21.6,9.62],[9.4,9.78],[12.1,9.86],[23.0,11.37],[25.7,11.21],[28.4,11.05],[25.7,10.97],[29.8,10.82],[33.9,10.90],[38.0,10.97],[42.0,11.05],[44.7,10.97],[47.5,10.90],[50.2,10.90],[31.2,10.66],[36.6,10.58],[42.0,10.66],[33.9,10.34],[29.8,10.42],[27.1,10.34],[25.7,10.10],[28.4,10.02],[32.5,10.10],[35.2,9.94],[33.9,9.70],[35.9,9.54],[32.5,9.46],
  [9.7,9.46],[12.1,9.62],[14.8,9.78],[17.5,9.94],[19.6,10.08],[10.7,9.18],[13.5,9.26],[16.2,9.34],[14.1,8.94],[16.2,9.02],[19.0,9.46],[10.7,9.82],[24.4,11.29],[27.1,11.13],[27.1,10.90],[31.9,10.86],[36.0,10.94],[40.0,11.01],[43.4,11.01],[46.1,10.94],[48.8,10.90],[33.9,10.62],[39.3,10.62],[31.9,10.38],[28.4,10.38],[26.4,10.22],[27.1,10.06],[30.5,10.06],[33.9,10.02],[34.5,9.82],[34.9,9.62],[34.2,9.50],[38.0,10.80],[44.0,10.80]];
const fit74 = [[8.3,9.14],[13.5,9.46],[18.9,9.78],[23.7,10.10],[25.7,10.22],[27.8,10.38],[31.2,10.46],[34.6,10.43],[42.0,10.66],[50.5,10.90]];

const pts75 = [[2.207,9.12],[2.288,9.28],[2.394,9.44],[2.501,9.60],[2.608,9.76],[2.715,9.92],[2.768,10.04],[2.288,9.36],[2.448,9.52],[2.555,9.68],[2.715,9.68],[2.875,9.64],[3.035,9.64],[3.195,9.68],[3.356,9.76],[3.462,9.88],[3.569,10.04],[3.676,10.16],[3.783,10.32],[2.822,9.84],[2.928,9.96],[3.035,10.08],[3.142,10.24],[3.249,10.36],[3.356,10.40],[3.462,10.44],[3.569,10.48],[2.982,9.52],[3.008,9.44],[2.661,9.36],[2.715,9.20],[2.768,8.95],[2.741,9.12],[2.715,10.56],[2.822,10.72],[2.928,10.88],[3.035,10.96],[3.142,11.04],[3.249,11.08],[3.409,11.12],[3.569,11.16],[3.676,11.16],[3.783,11.04],[3.836,10.96],[3.115,11.28],[3.142,11.40],[2.875,10.64],[2.982,10.72],[3.089,10.80],[3.302,10.80],[3.462,10.88],[3.569,10.92],[3.035,10.56],[3.195,10.64],[3.356,10.64],[3.516,10.72],[3.676,10.72],[3.783,10.64],[3.302,10.16],[3.409,10.24],[3.516,10.28],
  [2.25,9.20],[2.34,9.36],[2.45,9.52],[2.55,9.68],[2.66,9.84],[2.74,9.98],[2.80,9.66],[2.95,9.64],[3.12,9.66],[3.28,9.72],[3.41,9.82],[3.52,9.96],[3.62,10.10],[3.73,10.24],[2.87,9.90],[2.98,10.02],[3.09,10.16],[3.20,10.30],[3.30,10.38],[3.41,10.42],[3.52,10.46],[2.69,9.28],[2.75,9.04],[2.77,10.64],[2.87,10.80],[2.98,10.92],[3.09,11.00],[3.20,11.06],[3.33,11.10],[3.49,11.14],[3.62,11.16],[3.73,11.10],[3.81,11.00],[2.93,10.68],[3.04,10.76],[3.20,10.80],[3.38,10.84],[3.52,10.90],[3.62,10.82],[3.73,10.68],[3.12,10.60],[3.28,10.64],[3.44,10.68],[3.60,10.72],[3.36,10.20],[3.46,10.26]];
const fit75 = [[2.207,9.12],[2.394,9.40],[2.608,9.76],[2.768,10.08],[2.901,10.32],[3.035,10.48],[3.142,10.56],[3.249,10.58],[3.462,10.64],[3.847,10.78]];

const pts76 = [[-0.811,9.44],[-0.703,9.28],[-0.595,9.12],[-0.649,8.95],[-0.487,9.36],[-0.378,9.52],[-0.595,10.80],[-0.378,10.72],[-0.162,10.72],[-0.270,10.08],[-0.162,9.92],[-0.054,9.76],[0.054,9.84],[-0.162,10.16],[0.162,9.60],[0.270,9.36],[0.054,9.28],[0.270,9.20],[0.486,9.44],[0.594,9.52],[0.703,9.68],[0.486,9.76],[0.378,9.60],[0.162,9.44],[0.378,11.08],[0.594,11.04],[0.811,11.04],[1.351,11.28],[1.351,11.16],[0.919,10.96],[1.135,10.88],[1.351,10.80],[1.567,10.96],[1.784,11.04],[2.000,11.12],[2.216,11.16],[2.432,10.96],[2.486,10.72],[0.919,10.72],[1.135,10.56],[1.351,10.40],[1.567,10.48],[1.784,10.64],[2.000,10.72],[1.135,10.16],[1.351,10.00],[1.243,9.84],[1.027,9.92],[1.459,10.24],[1.567,10.08],
  [-0.757,9.36],[-0.649,9.20],[-0.541,9.28],[-0.432,9.44],[-0.486,10.76],[-0.270,10.72],[-0.216,10.00],[-0.108,9.84],[0.000,9.80],[0.108,9.52],[0.216,9.28],[0.162,9.24],[0.378,9.40],[0.540,9.48],[0.648,9.60],[0.594,9.72],[0.270,9.52],[0.486,11.06],[0.703,11.04],[1.351,11.22],[1.027,10.92],[1.243,10.84],[1.459,10.88],[1.675,11.00],[1.892,11.08],[2.108,11.14],[2.324,11.06],[2.459,10.84],[1.027,10.64],[1.243,10.48],[1.459,10.36],[1.675,10.56],[1.892,10.68],[2.216,10.80],[1.243,10.08],[1.297,9.92],[1.189,10.30],[1.400,10.16],[1.080,10.80],[1.600,10.72]];
const fit76 = [[-0.811,9.21],[-0.378,9.48],[0.054,9.80],[0.486,10.12],[0.811,10.24],[1.027,10.44],[1.351,10.56],[2.000,10.76],[2.486,11.03]];

// ---------------- assembly ----------------
const histBreaks = [breaks_LE, breaks_ADR, breaks_AGP, breaks_TR, breaks_HCI, breaks_ECI, breaks_logGDP];
const histCounts = [counts_LE, counts_ADR, counts_AGP, counts_TR, counts_HCI, counts_ECI, counts_logGDP];
const corrRows = [corrRow1, corrRow2, corrRow3, corrRow4, corrRow5, corrRow6];
const lowerPanels = [
  [2,1,pts21,fit21],[3,1,pts31,fit31],[3,2,pts32,fit32],
  [4,1,pts41,fit41],[4,2,pts42,fit42],[4,3,pts43,fit43],
  [5,1,pts51,fit51],[5,2,pts52,fit52],[5,3,pts53,fit53],[5,4,pts54,fit54],
  [6,1,pts61,fit61],[6,2,pts62,fit62],[6,3,pts63,fit63],[6,4,pts64,fit64],[6,5,pts65,fit65],
  [7,1,pts71,fit71],[7,2,pts72,fit72],[7,3,pts73,fit73],[7,4,pts74,fit74],[7,5,pts75,fit75],[7,6,pts76,fit76]
];

const W = 983, H = 980;
const LEFT0 = 49.3, TOP0 = 45.7, STEPX = 130.4, STEPY = 130.45, SIZE = 110.5;
const LABEL_OFFSET = 21;   // px from panel top to centre of the variable name
const FONT = 'Liberation Sans, Arial, Helvetica, sans-serif';
const BLUE = '#2394E0';

function suffix(k){ return k === 1 ? '' : String(k); }
function colLeft(j){ return LEFT0 + STEPX*j; }
function rowTop(i){ return TOP0 + STEPY*i; }
function mid(a, b){ return (a + b) / 2; }

const layout = {
  width: W, height: H,
  margin: {l:0, r:0, t:0, b:0, pad:0},
  paper_bgcolor: 'white', plot_bgcolor: 'white',
  showlegend: false,
  font: {family: FONT, color: 'black', size: 16},
  bargap: 0
};
const data = [];

const charW = {'0':0.556,'1':0.556,'2':0.556,'3':0.556,'4':0.556,'5':0.556,'6':0.556,'7':0.556,'8':0.556,'9':0.556,'.':0.278,'*':0.389,'\u2212':0.584};
function corrSize(txt){
  const em = txt.split('').reduce((a, c) => a + (charW[c] || 0.556), 0);
  return Math.min(27, 85/em);
}

for (let i = 0; i < 7; i++) {
  for (let j = 0; j < 7; j++) {
    const k = i*7 + j + 1, s = suffix(k);
    const x0 = colLeft(j), y0 = rowTop(i);
    const isDiag = i === j;
    const maxC = Math.max.apply(null, histCounts[i]);
    const xa = {
      domain: [x0/W, (x0+SIZE)/W], range: [axisMin[j], axisMax[j]], anchor: 'y'+s,
      showline: true, mirror: true, linecolor: 'black', linewidth: 1,
      showgrid: false, zeroline: false, ticks: '', showticklabels: false, fixedrange: true
    };
    const yRange = (isDiag && i !== 6) ? [0, 1.5*maxC] : [axisMin[i], axisMax[i]];
    const ya = {
      domain: [1-(y0+SIZE)/H, 1-y0/H], range: yRange, anchor: 'x'+s,
      showline: true, mirror: true, linecolor: 'black', linewidth: 1,
      showgrid: false, zeroline: false, ticks: '', showticklabels: false, fixedrange: true
    };
    const tickStyle = {ticks: 'outside', ticklen: 10, tickwidth: 1, tickcolor: 'black', showticklabels: true,
                       tickfont: {family: FONT, size: 16, color: 'black'}, tickmode: 'array'};
    if (i === 0 && j % 2 === 1) Object.assign(xa, tickStyle, {side: 'top', tickvals: tickVals[j], ticktext: tickText[j], ticklabelstandoff: 8});
    if (i === 6 && j % 2 === 0) Object.assign(xa, tickStyle, {side: 'bottom', tickvals: tickVals[j], ticktext: tickText[j], ticklabelstandoff: 8});
    if (j === 0 && i % 2 === 1) Object.assign(ya, tickStyle, {side: 'left', tickvals: tickVals[i], ticktext: tickText[i], tickangle: -90, ticklabelstandoff: 6});
    if (j === 6 && i % 2 === 0) Object.assign(ya, tickStyle, {side: 'right', tickvals: tickVals[i], ticktext: tickText[i], tickangle: -90, ticklabelstandoff: 6});
    layout['xaxis'+s] = xa;
    layout['yaxis'+s] = ya;

    if (isDiag) {
      const br = histBreaks[i], cn = histCounts[i];
      const centers = cn.map((c, b) => mid(br[b], br[b+1]));
      const widths = cn.map((c, b) => br[b+1] - br[b]);
      let barY = 'y'+s;
      if (i === 6) {
        // counts on an overlaid axis; the panel's own y axis keeps the logGDP scale for the right-hand ticks
        layout['yaxis50'] = {overlaying: 'y'+s, anchor: 'x'+s, range: [0, 1.5*maxC], visible: false, fixedrange: true,
                             showgrid: false, zeroline: false};
        barY = 'y50';
      }
      data.push({type: 'bar', x: centers, y: cn, width: widths, xaxis: 'x'+s, yaxis: barY,
                 marker: {color: BLUE, line: {color: 'black', width: 1.2}}, hoverinfo: 'skip'});
      const labelY = yRange[1] - (yRange[1]-yRange[0]) * LABEL_OFFSET / SIZE;
      data.push({type: 'scatter', mode: 'text', x: [mid(axisMin[j], axisMax[j])], y: [labelY], text: [varNames[i]],
                 textposition: 'middle center', textfont: {family: FONT, size: 27, color: 'black'},
                 xaxis: 'x'+s, yaxis: 'y'+s, cliponaxis: false, hoverinfo: 'skip'});
    } else if (i < j) {
      const txt = corrRows[i][j-i-1];
      data.push({type: 'scatter', mode: 'text', x: [mid(axisMin[j], axisMax[j])], y: [mid(axisMin[i], axisMax[i])], text: [txt],
                 textposition: 'middle center', textfont: {family: FONT, size: corrSize(txt), color: 'black'},
                 xaxis: 'x'+s, yaxis: 'y'+s, cliponaxis: false, hoverinfo: 'skip'});
    }
  }
}

// scatter + smooth in the lower triangle
lowerPanels.forEach(p => {
  const i = p[0]-1, j = p[1]-1, k = i*7 + j + 1, s = suffix(k);
  const pts = p[2], fit = p[3];
  data.push({type: 'scatter', mode: 'markers', x: pts.map(d => d[0]), y: pts.map(d => d[1]),
             xaxis: 'x'+s, yaxis: 'y'+s, marker: {color: 'black', size: 8}, hoverinfo: 'skip', cliponaxis: true});
  data.push({type: 'scatter', mode: 'lines', x: fit.map(d => d[0]), y: fit.map(d => d[1]),
             xaxis: 'x'+s, yaxis: 'y'+s, line: {color: 'red', width: 1.3, shape: 'spline', smoothing: 0.6}, hoverinfo: 'skip'});
});

Plotly.newPlot('chart', data, layout, {staticPlot: true, displayModeBar: false});
</script>
</body>
</html>
